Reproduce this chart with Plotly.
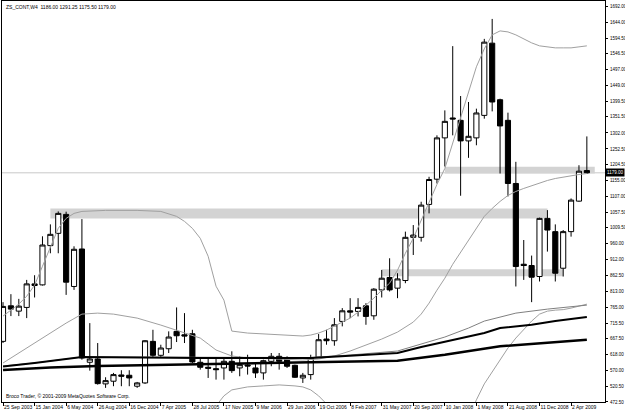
import plotly.graph_objects as go

# ---------------- data ----------------
title_text = "ZS_CONT,W4  1186.00 1291.25 1175.50 1179.00"
copyright_text = "Broco Trader, \u00a9 2001-2009 MetaQuotes Software Corp."

bar_index = list(range(75))
opens = [659.3, 768.9, 752.5, 763.9, 836.5, 833.4, 954.5, 992.4, 1050.8, 828.5,
         944.1, 594.8, 604.9, 528.1, 536.4, 555.7, 554.8, 521.0, 531.1, 659.3,
         616.3, 636.6, 690.1, 679.6, 682.7, 594.8, 579.4, 575.1, 577.3, 597.8,
         577.3, 586.5, 577.3, 562.0, 597.8, 613.2, 608.0, 585.5, 546.5, 556.8,
         610.2, 666.4, 661.2, 720.8, 753.5, 751.6, 768.9, 738.1, 818.0, 856.2,
         823.3, 846.9, 980.1, 980.1, 1081.5, 1159.3, 1286.7, 1348.1, 1340.8, 1277.4,
         1286.7, 1356.1, 1578.8, 1404.4, 1340.8, 1146.1, 897.1, 893.1, 859.2, 1038.5,
         997.6, 884.8, 997.6, 1091.7, 1186.0]
highs = [780.2, 804.8, 790.3, 848.8, 863.2, 983.2, 1020.0, 1060.0, 1059.1, 952.4,
         1036.3, 715.6, 654.1, 548.6, 562.0, 570.3, 570.3, 534.2, 663.0, 695.0,
         648.9, 690.1, 763.9, 746.4, 695.0, 608.0, 608.0, 608.0, 608.0, 628.6,
         613.2, 618.1, 592.6, 602.8, 623.4, 623.4, 613.2, 587.4, 562.0, 618.1,
         681.8, 695.0, 731.0, 761.8, 792.5, 792.5, 777.1, 823.3, 879.5, 915.5,
         869.4, 997.6, 1017.9, 1089.8, 1166.7, 1294.6, 1371.5, 1569.6, 1415.8, 1397.4,
         1376.8, 1592.0, 1653.5, 1407.5, 1364.5, 1212.9, 971.8, 923.8, 1040.7, 1064.0,
         1020.0, 1002.5, 1100.0, 1202.4, 1291.25]
lows = [654.1, 737.2, 737.2, 731.0, 794.6, 831.5, 930.9, 930.9, 802.6, 818.0,
        602.8, 569.0, 525.9, 515.8, 521.0, 521.0, 521.0, 515.8, 528.1, 611.1,
        608.0, 623.4, 657.2, 654.1, 592.6, 572.1, 546.5, 541.3, 541.3, 562.0,
        551.7, 556.8, 546.5, 541.3, 582.5, 572.1, 577.3, 546.5, 531.1, 541.3,
        608.0, 648.9, 645.8, 705.5, 731.0, 736.2, 710.4, 725.8, 794.6, 813.1,
        792.5, 838.6, 925.6, 966.8, 1053.9, 1146.1, 1198.4, 1294.6, 1108.3, 1225.2,
        1263.9, 1346.0, 1368.4, 1176.9, 1106.1, 828.5, 848.8, 780.2, 843.9, 936.1,
        843.9, 859.2, 982.2, 1089.8, 1175.5]
closes = [767.0, 758.7, 767.9, 836.5, 831.5, 956.4, 989.3, 1053.9, 841.7, 943.2,
          608.0, 604.9, 529.0, 538.2, 556.8, 551.7, 546.5, 531.1, 661.2, 616.3,
          638.8, 672.6, 676.6, 675.7, 595.7, 579.4, 576.4, 572.1, 597.8, 569.0,
          587.4, 583.4, 562.0, 599.7, 613.2, 597.8, 582.5, 548.6, 554.8, 608.0,
          664.3, 661.2, 710.4, 753.5, 749.5, 763.9, 736.2, 820.2, 854.0, 818.0,
          851.8, 980.1, 987.1, 1079.4, 1158.4, 1286.7, 1337.7, 1345.1, 1277.4, 1291.6,
          1363.5, 1581.9, 1397.4, 1323.5, 1146.1, 890.0, 893.1, 857.1, 1038.5, 1002.5,
          869.4, 997.6, 1094.8, 1184.0, 1179.0]

date_tick_index = list(range(0, 73, 4))
date_tick_labels = ["25 Sep 2003", "15 Jan 2004", "6 May 2004", "26 Aug 2004", "16 Dec 2004",
                    "7 Apr 2005", "28 Jul 2005", "17 Nov 2005", "9 Mar 2006", "29 Jun 2006",
                    "19 Oct 2006", "8 Feb 2007", "31 May 2007", "20 Sep 2007", "10 Jan 2008",
                    "1 May 2008", "21 Aug 2008", "11 Dec 2008", "2 Apr 2009"]

price_tick_labels = ["1692.00", "1644.00", "1594.50", "1546.50", "1497.00", "1449.00",
                     "1399.50", "1351.50", "1302.00", "1252.50", "1204.50", "1155.00",
                     "1107.00", "1057.50", "1009.50", "960.00", "912.00", "862.50",
                     "813.00", "765.00", "715.50", "667.50", "618.00", "570.00",
                     "520.50", "472.50"]
last_price_label = "1179.00"

# Bollinger bands
bb_upper_idx = [0, 1, 2, 3, 4, 5, 6, 7, 8, 9, 10, 13, 17, 20, 22, 23, 24, 25, 26, 27, 28, 29,
                31, 33, 36, 38, 39, 40, 41, 42, 43, 44, 45, 46, 47, 48, 49, 50, 51, 52, 53,
                54, 55, 56, 57, 58, 59, 60, 61, 62, 63, 64, 65, 66, 67, 68, 69, 70, 71, 72, 73, 74]
bb_upper_val = [737.2, 755.6, 774.1, 798.6, 832.5, 890.9, 952.4, 1007.8, 1038.5, 1053.9, 1060.0,
                1063.1, 1063.1, 1060.0, 1044.7, 1029.3, 1007.8, 977.0, 921.7, 829.4, 786.4, 691.0,
                684.9, 681.8, 678.7, 675.7, 678.7, 684.9, 694.1, 706.4, 718.7, 731.0, 749.5,
                771.0, 792.5, 817.1, 838.6, 878.6, 930.9, 977.0, 1032.4, 1084.6, 1143.1, 1192.3,
                1269.1, 1346.0, 1422.9, 1505.9, 1561.3, 1604.3, 1616.6, 1613.5, 1604.3, 1592.0,
                1579.7, 1570.5, 1567.4, 1564.3, 1564.3, 1564.3, 1567.4, 1570.5]
bb_mid_idx = [0, 2, 4, 6, 8, 10, 12, 14, 17, 20, 23, 25, 26, 27, 28, 29, 31, 34, 38, 40, 42,
              44, 46, 48, 50, 52, 53, 54, 55, 56, 57, 58, 59, 60, 61, 62, 63, 64, 65, 66, 67,
              68, 69, 70, 71, 72, 73, 74]
bb_mid_val = [592.6, 623.4, 654.1, 684.9, 715.6, 743.3, 746.4, 743.3, 731.0, 709.5, 684.9,
              669.5, 651.1, 632.6, 623.4, 614.2, 608.0, 604.9, 601.9, 604.9, 614.2, 629.5,
              648.0, 666.4, 687.9, 718.7, 743.3, 777.1, 817.1, 854.0, 897.0, 933.9, 970.9,
              1007.8, 1044.7, 1069.2, 1090.8, 1109.2, 1121.5, 1130.8, 1139.0, 1149.2, 1155.4,
              1161.5, 1166.1, 1170.7, 1173.8, 1176.9]
bb_low_idx = [27, 28, 29, 31, 33, 35, 37, 38, 39, 40, 41, None,
              59, 60, 61, 62, 63, 64, 65, 66, 67, 68, 69, 70, 71, 72, 73, 74]
bb_low_val = [460.4, 491.2, 509.6, 518.8, 521.9, 525.0, 521.9, 518.8, 509.6, 491.2, 466.6, None,
              423.5, 478.8, 528.1, 565.0, 601.9, 638.8, 669.5, 697.2, 721.8, 743.3, 752.5,
              755.6, 757.1, 761.8, 767.9, 774.1]

# moving averages
ma_thin_idx = [0, 4, 10, 25, 39, 44, 50, 56, 59, 61, 65, 69, 74]
ma_thin_val = [583.4, 592.6, 611.1, 609.5, 609.5, 617.2, 629.5, 672.6, 700.3, 721.8, 746.4, 758.7, 771.0]
ma_fast_idx = [0, 4, 10, 25, 39, 44, 50, 53, 57, 61, 63, 67, 70, 74]
ma_fast_val = [581.9, 592.6, 611.1, 608.0, 608.0, 614.2, 623.4, 641.8, 663.4, 684.9, 700.3, 710.4, 721.8, 734.1]
ma_slow_idx = [0, 6, 12, 25, 39, 50, 56, 63, 74]
ma_slow_val = [571.1, 578.8, 583.4, 588.0, 594.8, 599.7, 618.1, 643.9, 664.3]

# support / resistance zones (rectangles)
zone_start = [6, 48, 56]
zone_end = [69, 71, 75]
zone_low = [1038.5, 860.2, 1176.9]
zone_high = [1069.3, 881.7, 1197.5]

# ---------------- figure ----------------
FONT = "Liberation Sans"
fig = go.Figure()

for x0, x1, y0, y1 in zip(zone_start, zone_end, zone_low, zone_high):
    fig.add_shape(type="rect", xref="x", yref="y", x0=x0, x1=x1, y0=y0, y1=y1,
                  fillcolor="#d3d3d3", line=dict(width=0), layer="below")

fig.add_shape(type="line", xref="paper", yref="y", x0=0, x1=1, y0=closes[-1], y1=closes[-1],
              line=dict(color="#c8c8c8", width=1), layer="below")

fig.add_trace(go.Candlestick(
    x=bar_index, open=opens, high=highs, low=lows, close=closes,
    increasing=dict(line=dict(color="black", width=1), fillcolor="white"),
    decreasing=dict(line=dict(color="black", width=1), fillcolor="black"),
    whiskerwidth=0, showlegend=False, hoverinfo="skip"))

for xs, ys, col, w in [
    (bb_upper_idx, bb_upper_val, "#a0a0a0", 1),
    (bb_mid_idx, bb_mid_val, "#a0a0a0", 1),
    (bb_low_idx, bb_low_val, "#a0a0a0", 1),
    (ma_thin_idx, ma_thin_val, "#808080", 1),
    (ma_fast_idx, ma_fast_val, "black", 2),
    (ma_slow_idx, ma_slow_val, "black", 2.5),
]:
    fig.add_trace(go.Scatter(x=xs, y=ys, mode="lines", line=dict(color=col, width=w),
                             showlegend=False, hoverinfo="skip", connectgaps=False))

fig.add_annotation(xref="paper", yref="paper", x=0.003, y=0.997, xanchor="left", yanchor="top",
                   text=title_text, showarrow=False, font=dict(family=FONT, size=5, color="black"))
fig.add_annotation(xref="paper", yref="paper", x=0.003, y=0.003, xanchor="left", yanchor="bottom",
                   text=copyright_text, showarrow=False, font=dict(family=FONT, size=5, color="black"))
fig.add_annotation(xref="paper", yref="y", x=1.0, y=closes[-1], xanchor="left", yanchor="middle",
                   text=last_price_label, showarrow=False, bgcolor="black", borderpad=1,
                   font=dict(family=FONT, size=4.5, color="white"))

fig.update_layout(
    width=625, height=412,
    margin=dict(l=2, r=20, t=1, b=10, autoexpand=False),
    paper_bgcolor="white", plot_bgcolor="white",
    boxgap=0.35, boxgroupgap=0,
    showlegend=False,
    xaxis=dict(range=[-0.13, 76.3], tickvals=date_tick_index, ticktext=date_tick_labels,
               tickangle=0, automargin=False,
               ticks="outside", ticklen=3, tickcolor="black", ticklabelposition="outside right",
               showgrid=False, zeroline=False, showline=True, linecolor="black", linewidth=1,
               mirror=True, rangeslider=dict(visible=False),
               tickfont=dict(family=FONT, size=5, color="black")),
    yaxis=dict(range=[472.3, 1708.8], side="right", automargin=False,
               tickvals=[float(t) for t in price_tick_labels], ticktext=price_tick_labels,
               ticks="outside", ticklen=2, tickcolor="black", ticklabelstandoff=1,
               showgrid=False, zeroline=False, showline=True, linecolor="black", linewidth=1,
               mirror=True, tickfont=dict(family=FONT, size=4.5, color="black")),
)

fig.write_html("out.html")
